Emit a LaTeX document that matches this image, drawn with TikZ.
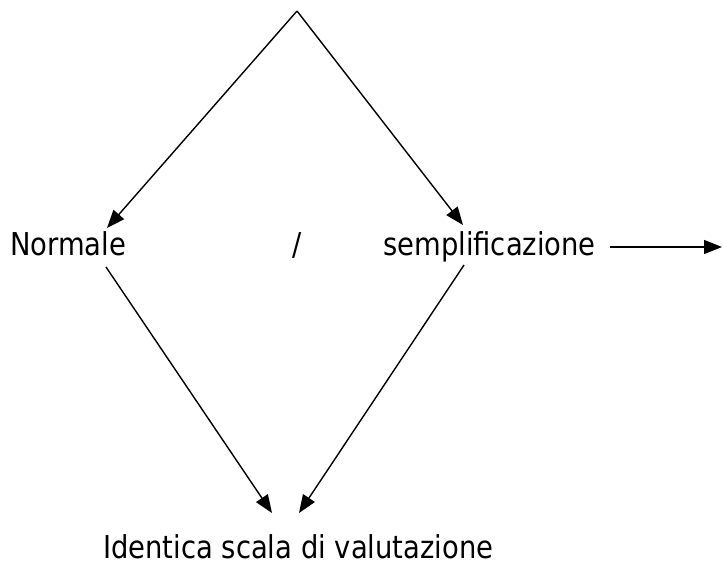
\documentclass[tikz,border=0pt]{standalone}
\usepackage{fontspec}
\setmainfont{DejaVu Sans}[FakeStretch=0.87]
\usetikzlibrary{arrows.meta}
\begin{document}
\begin{tikzpicture}[x=1pt,y=-1pt,
  conn/.style={line width=1.4pt,-{Triangle[length=18pt,width=14pt]}},
  lbl/.style={inner sep=0pt,anchor=base west,font=\fontsize{31.5}{38}\selectfont}]
\useasboundingbox[fill=white] (0,0) rectangle (723,567);
\coordinate (apex) at (297,11);
\node[lbl] (norm) at (10,255) {Normale};
\node[lbl] (slash) at (292,255) {/};
\node[lbl] (semp) at (383,255) {semplificazione};
\node[lbl] (id) at (103,558) {Identica scala di valutazione};
\coordinate (ntip) at (107,228);
\coordinate (stip) at (463,225);
\coordinate (nstart) at (106,267);
\coordinate (sstart) at (464,265);
\coordinate (ltip) at (272,513);
\coordinate (rtip) at (299,513);
\coordinate (hstart) at (610,247);
\coordinate (hend) at (722,247);
\draw[conn] (apex) -- (ntip);
\draw[conn] (apex) -- (stip);
\draw[conn] (nstart) -- (ltip);
\draw[conn] (sstart) -- (rtip);
\draw[conn] (hstart) -- (hend);
\end{tikzpicture}
\end{document}
